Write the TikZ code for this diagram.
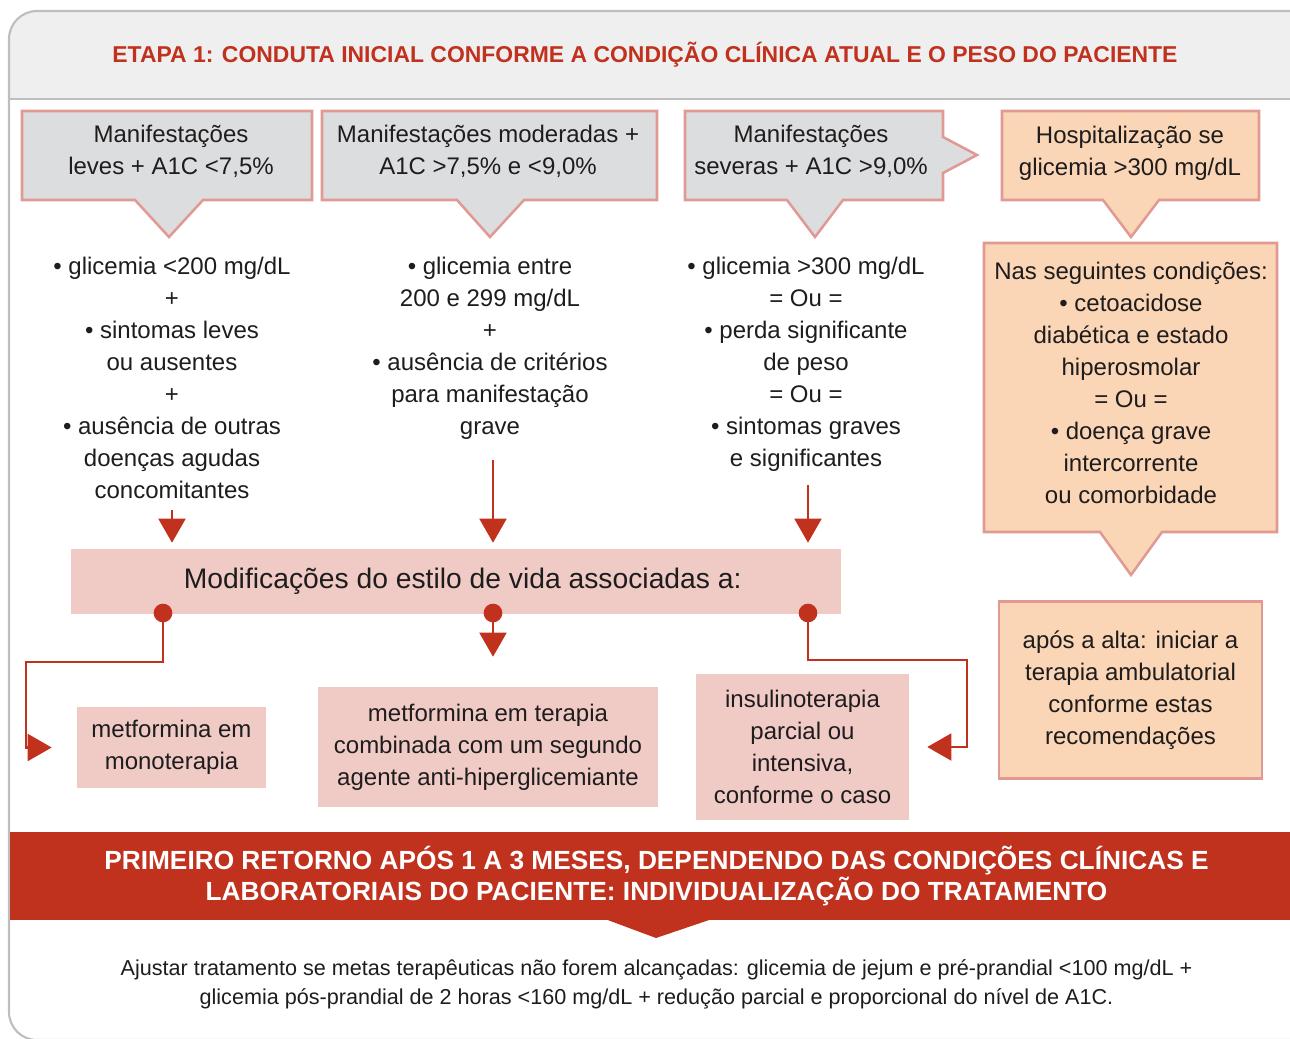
\documentclass[tikz,border=0pt]{standalone}
\usepackage{fontspec}
\setmainfont{Liberation Sans}
\usetikzlibrary{arrows.meta}
\definecolor{rd}{RGB}{192,49,30}
\definecolor{pkb}{RGB}{224,154,147}
\definecolor{gyf}{RGB}{220,221,223}
\definecolor{orf}{RGB}{250,213,182}
\definecolor{pkf}{RGB}{240,203,198}
\definecolor{hdb}{RGB}{239,239,239}
\definecolor{frm}{RGB}{190,190,190}
\definecolor{txt}{RGB}{30,28,28}
\begin{document}
\begin{tikzpicture}[x=0.75pt,y=-0.75pt,
  callgray/.style={fill=gyf,draw=pkb,line width=1.9pt,line join=miter},
  callor/.style={fill=orf,draw=pkb,line width=1.9pt,line join=miter},
  body/.style={font=\fontsize{18}{24}\selectfont,text=txt,align=center,inner sep=0pt},
  pinkbox/.style={fill=pkf,draw=none,font=\fontsize{18}{24}\selectfont,text=txt,align=center,inner sep=0pt},
  orbox/.style={fill=orf,draw=pkb,line width=1.9pt,font=\fontsize{18}{24}\selectfont,text=txt,align=center,inner sep=0pt},
  arr/.style={draw=rd,line width=2.2pt,line join=miter,-{Triangle[width=20pt,length=18pt]}},
  dotc/.style={fill=rd,draw=none}]
\useasboundingbox (0,0) rectangle (1290,1039);
\begin{scope}
  \clip (0,0) rectangle (1290,1039);
  % frame and header
  \begin{scope}
    \clip[rounded corners=21pt] (9,11) rectangle (1330,1040);
    \fill[hdb] (0,0) rectangle (1330,99);
  \end{scope}
  \draw[frm,line width=2.2pt] (9,99) -- (1330,99);
  \draw[frm,line width=1.6pt,rounded corners=21pt] (9,11) rectangle (1330,1040);
  \node[font=\bfseries\fontsize{17.2}{20}\selectfont,text=rd,inner sep=0pt] (title) at (645,55)
    {ETAPA 1: CONDUTA INICIAL CONFORME A CONDIÇÃO CLÍNICA ATUAL E O PESO DO PACIENTE};

  % callouts
  \draw[callgray] (22,111) -- (312,111) -- (312,200) -- (203,200) -- (169,237) -- (135,200) -- (22,200) -- cycle;
  \draw[callgray] (322,111) -- (657,111) -- (657,200) -- (524,200) -- (490,237) -- (457,200) -- (322,200) -- cycle;
  \draw[callgray] (685,111) -- (943,111) -- (943,137) -- (977,155) -- (943,173) -- (943,200) -- (843,200) -- (815,237) -- (787,200) -- (685,200) -- cycle;
  \draw[callor] (1002,111) -- (1259,111) -- (1259,200) -- (1159,200) -- (1131,237) -- (1103,200) -- (1002,200) -- cycle;
  \draw[callor] (984,243) -- (1277,243) -- (1277,532) -- (1162,532) -- (1131,575) -- (1100,532) -- (984,532) -- cycle;

  \node[body,anchor=north] (h1) at (171,125) {Manifestações\\leves + A1C <7,5\%};
  \node[body,anchor=north] (h2) at (488,125) {Manifestações moderadas +\\A1C >7,5\% e <9,0\%};
  \node[body,anchor=north] (h3) at (811,125) {Manifestações\\severas + A1C >9,0\%};
  \node[body,anchor=north] (h4) at (1130,126) {Hospitalização se\\glicemia >300 mg/dL};

  \node[body,anchor=north] (c1) at (172,257)
    {• glicemia <200 mg/dL\\+\\• sintomas leves\\ou ausentes\\+\\• ausência de outras\\doenças agudas\\concomitantes};
  \node[body,anchor=north] (c2) at (490,257)
    {• glicemia entre\\200 e 299 mg/dL\\+\\• ausência de critérios\\para manifestação\\grave};
  \node[body,anchor=north] (c3) at (806,257)
    {• glicemia >300 mg/dL\\= Ou =\\• perda significante\\de peso\\= Ou =\\• sintomas graves\\e significantes};
  \node[body,anchor=north] (c4) at (1131,262)
    {Nas seguintes condições:\\• cetoacidose\\diabética e estado\\hiperosmolar\\= Ou =\\• doença grave\\intercorrente\\ou comorbidade};

  % lifestyle box
  \node[pinkbox,font=\fontsize{21.2}{24}\selectfont,minimum width=770*0.75pt,minimum height=65*0.75pt] (mod) at (456,581.5)
    {\hspace*{10pt}Modificações do estilo de vida associadas a:};

  \coordinate (a1) at (172,510);
  \coordinate (a2) at (493,460);
  \coordinate (a3) at (808,485);
  \draw[arr,shorten >=4.5pt] (a1) -- (a1 |- mod.north);
  \draw[arr,shorten >=4.5pt] (a2) -- (a2 |- mod.north);
  \draw[arr,shorten >=4.5pt] (a3) -- (a3 |- mod.north);

  % therapy boxes
  \node[pinkbox,minimum width=189*0.75pt,minimum height=81*0.75pt] (mono) at (171.5,747.5)
    {metformina em\\monoterapia};
  \node[pinkbox,minimum width=340*0.75pt,minimum height=120*0.75pt] (comb) at (488,747)
    {metformina em terapia\\combinada com um segundo\\agente anti-hiperglicemiante};
  \node[pinkbox,minimum width=213*0.75pt,minimum height=146*0.75pt] (insul) at (802.5,747)
    {insulinoterapia\\parcial ou\\intensiva,\\conforme o caso};
  \node[orbox,minimum width=263*0.75pt,minimum height=177*0.75pt] (apos) at (1130.5,690)
    {após a alta: iniciar a\\terapia ambulatorial\\conforme estas\\recomendações};

  \coordinate (d1) at (163,613);
  \coordinate (d2) at (493,613);
  \coordinate (d3) at (808,613);
  \draw[arr,shorten >=18.75pt] (d1) |- (26,662) |- (mono.west);
  \draw[arr,shorten >=22.5pt] (d2) -- (d2 |- comb.north);
  \draw[arr,shorten >=13.5pt] (d3) |- (967,660) |- (insul.east);
  \fill[dotc] (d1) circle (7pt);
  \fill[dotc] (d2) circle (7pt);
  \fill[dotc] (d3) circle (7pt);

  % banner
  \node[fill=rd,inner sep=0pt,minimum width=1293*0.75pt,minimum height=88*0.75pt,text=white,
        font=\bfseries\fontsize{19.7}{23.25}\selectfont,align=center] (ban) at (656.5,876)
    {PRIMEIRO RETORNO APÓS 1 A 3 MESES, DEPENDENDO DAS CONDIÇÕES CLÍNICAS E\\LABORATORIAIS DO PACIENTE: INDIVIDUALIZAÇÃO DO TRATAMENTO};
  \fill[rd] (605,919) -- (712,919) -- (656,938) -- cycle;

  \node[body,font=\fontsize{16.2}{21.75}\selectfont] (note) at (656.5,984)
    {Ajustar tratamento se metas terapêuticas não forem alcançadas: glicemia de jejum e pré-prandial <100 mg/dL +\\glicemia pós-prandial de 2 horas <160 mg/dL + redução parcial e proporcional do nível de A1C.};
\end{scope}
\end{tikzpicture}
\end{document}
